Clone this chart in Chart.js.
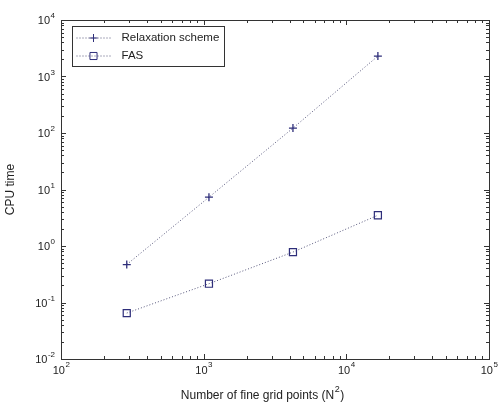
<!DOCTYPE html>
<html>
<head>
<meta charset="utf-8">
<script src="https://cdn.jsdelivr.net/npm/chart.js@4/dist/chart.umd.min.js"></script>
<style>
html,body{margin:0;padding:0;background:#fff;}
#wrap{width:498px;height:407px;position:relative;}
</style>
</head>
<body>
<div id="wrap"><canvas id="c" width="498" height="407"></canvas></div>
<script>
// ---- data ----
const gridPoints = [289, 1089, 4225, 16641];
const relaxationTime = [0.47, 7.3, 122, 2300];
const fasTime = [0.065, 0.215, 0.78, 3.5];
const seriesLabels = ['Relaxation scheme', 'FAS'];
const xTickExponents = [2, 3, 4, 5];
const yTickExponents = [-2, -1, 0, 1, 2, 3, 4];
const xTitle = ['Number of fine grid points (N', '2', ')'];
const yTitle = 'CPU time';

const markerColor = '#2e2e7a';
const lineColor = '#55557a';
const frameColor = '#333333';
const fontFam = '"Liberation Sans", Arial, sans-serif';

function toPts(xs, ys) { return xs.map((x, i) => ({x: x, y: ys[i]})); }

const axesPlugin = {
  id: 'matlabAxes',
  beforeDatasetsDraw(chart) {
    const ctx = chart.ctx;
    const a = chart.chartArea;
    const xs = chart.scales.x, ys = chart.scales.y;
    ctx.save();
    ctx.strokeStyle = frameColor;
    ctx.lineWidth = 1;
    ctx.strokeRect(Math.round(a.left) + 0.5, Math.round(a.top) + 0.5,
                   Math.round(a.right - a.left), Math.round(a.bottom - a.top));
    ctx.beginPath();
    const xMinE = xTickExponents[0], xMaxE = xTickExponents[xTickExponents.length - 1];
    for (let e = xMinE; e <= xMaxE; e++) {
      for (let m = 1; m <= 9; m++) {
        if (e === xMaxE && m > 1) break;
        const v = m * Math.pow(10, e);
        const px = Math.round(xs.getPixelForValue(v)) + 0.5;
        const len = m === 1 ? 5 : 3;
        ctx.moveTo(px, a.bottom); ctx.lineTo(px, a.bottom - len);
        ctx.moveTo(px, a.top); ctx.lineTo(px, a.top + len);
      }
    }
    const yMinE = yTickExponents[0], yMaxE = yTickExponents[yTickExponents.length - 1];
    for (let e = yMinE; e <= yMaxE; e++) {
      for (let m = 1; m <= 9; m++) {
        if (e === yMaxE && m > 1) break;
        const v = m * Math.pow(10, e);
        const py = Math.round(ys.getPixelForValue(v)) + 0.5;
        const len = m === 1 ? 5 : 3;
        ctx.moveTo(a.left, py); ctx.lineTo(a.left + len, py);
        ctx.moveTo(a.right, py); ctx.lineTo(a.right - len, py);
      }
    }
    ctx.stroke();

    // tick labels
    ctx.fillStyle = '#222';
    ctx.textBaseline = 'middle';
    const baseFont = '11px ' + fontFam, supFont = '8px ' + fontFam;
    xTickExponents.forEach(e => {
      const px = xs.getPixelForValue(Math.pow(10, e));
      ctx.font = baseFont;
      const wb = ctx.measureText('10').width;
      ctx.font = supFont;
      const es = String(e);
      const we = ctx.measureText(es).width;
      const start = px - (wb + we) / 2;
      ctx.font = baseFont; ctx.textAlign = 'left';
      ctx.fillText('10', start, a.bottom + 12);
      ctx.font = supFont;
      ctx.fillText(es, start + wb + 0.5, a.bottom + 6);
    });
    yTickExponents.forEach(e => {
      const py = ys.getPixelForValue(Math.pow(10, e));
      ctx.font = supFont;
      const es = String(e);
      const we = ctx.measureText(es).width;
      const right = a.left - 6;
      ctx.textAlign = 'left';
      ctx.fillText(es, right - we, py - 4);
      ctx.font = baseFont;
      const wb = ctx.measureText('10').width;
      ctx.fillText('10', right - we - wb - 0.5, py + 1);
    });

    // axis titles
    ctx.font = '12px ' + fontFam;
    const w0 = ctx.measureText(xTitle[0]).width;
    ctx.font = '9px ' + fontFam;
    const w1 = ctx.measureText(xTitle[1]).width;
    ctx.font = '12px ' + fontFam;
    const w2 = ctx.measureText(xTitle[2]).width;
    const cx = 262;
    let sx = cx - (w0 + w1 + w2) / 2;
    const ty = a.bottom + 37;
    ctx.textAlign = 'left';
    ctx.fillText(xTitle[0], sx, ty);
    ctx.font = '9px ' + fontFam;
    ctx.fillText(xTitle[1], sx + w0 + 0.5, ty - 6);
    ctx.font = '12px ' + fontFam;
    ctx.fillText(xTitle[2], sx + w0 + w1 + 1, ty);

    ctx.save();
    ctx.translate(11, (a.top + a.bottom) / 2);
    ctx.rotate(-Math.PI / 2);
    ctx.textAlign = 'center';
    ctx.fillText(yTitle, 0, 0);
    ctx.restore();
    ctx.restore();
  },
  afterDraw(chart) {
    const ctx = chart.ctx;
    const a = chart.chartArea;
    const bx = a.left + 11.5, by = a.top + 6.5, bw = 152, bh = 40;
    ctx.save();
    ctx.fillStyle = '#fff';
    ctx.fillRect(bx, by, bw, bh);
    ctx.strokeStyle = frameColor;
    ctx.lineWidth = 1;
    ctx.strokeRect(bx, by, bw, bh);
    chart.data.datasets.forEach((ds, i) => {
      const y = by + 11.5 + i * 18;
      ctx.strokeStyle = ds.borderColor;
      ctx.lineWidth = 1;
      ctx.setLineDash([1, 2]);
      ctx.beginPath();
      ctx.moveTo(bx + 4, y); ctx.lineTo(bx + 38, y);
      ctx.stroke();
      ctx.setLineDash([]);
      ctx.strokeStyle = ds.pointBorderColor;
      ctx.fillStyle = 'rgba(0,0,0,0)';
      Chart.helpers.drawPoint(ctx, {
        pointStyle: ds.pointStyle, radius: ds.pointRadius,
        borderWidth: ds.pointBorderWidth || 1, rotation: 0
      }, bx + 21, y);
      ctx.fillStyle = '#222';
      ctx.font = '11.5px ' + fontFam;
      ctx.textAlign = 'left';
      ctx.textBaseline = 'middle';
      ctx.fillText(ds.label, bx + 49, y);
    });
    ctx.restore();
  }
};

new Chart(document.getElementById('c'), {
  type: 'line',
  data: {
    datasets: [
      {
        label: seriesLabels[0],
        data: toPts(gridPoints, relaxationTime),
        borderColor: lineColor, backgroundColor: 'rgba(0,0,0,0)',
        borderWidth: 1, borderDash: [1, 2],
        pointStyle: 'cross', pointRadius: 4, pointBorderWidth: 1.3,
        pointBorderColor: markerColor, pointBackgroundColor: 'rgba(0,0,0,0)',
        tension: 0
      },
      {
        label: seriesLabels[1],
        data: toPts(gridPoints, fasTime),
        borderColor: lineColor, backgroundColor: 'rgba(0,0,0,0)',
        borderWidth: 1, borderDash: [1, 2],
        pointStyle: 'rect', pointRadius: 5, pointBorderWidth: 1.2,
        pointBorderColor: markerColor, pointBackgroundColor: 'rgba(0,0,0,0)',
        tension: 0
      }
    ]
  },
  options: {
    responsive: false,
    animation: false,
    layout: {padding: {left: 61, right: 9, top: 20, bottom: 48}},
    plugins: {legend: {display: false}, tooltip: {enabled: false}},
    scales: {
      x: {type: 'logarithmic', min: 100, max: 100000, display: false},
      y: {type: 'logarithmic', min: 0.01, max: 10000, display: false}
    }
  },
  plugins: [axesPlugin]
});
</script>
</body>
</html>
